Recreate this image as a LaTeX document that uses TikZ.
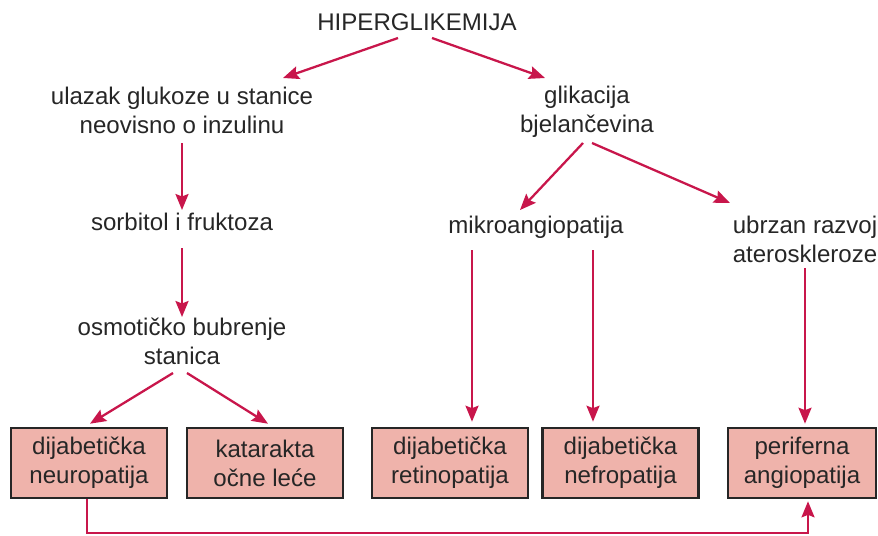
\documentclass[tikz,border=0pt]{standalone}
\usepackage{fontspec}
\setmainfont{Liberation Sans}
\usepackage{tikz}
\usetikzlibrary{arrows.meta, calc}
\definecolor{Karmin}{HTML}{C8164B}
\definecolor{Ruza}{HTML}{EFB3AB}
\definecolor{Tinta}{HTML}{262626}

\begin{document}
\begin{tikzpicture}[
  x=0.02cm, y=-0.02cm,
  tekst/.style={align=center, inner sep=0pt, text=Tinta,
                font=\fontsize{13.7}{16.4}\selectfont},
  kutija/.style={tekst, draw=Tinta, line width=1.5pt, fill=Ruza,
                 minimum width=3.12cm, minimum height=1.4cm},
  strelica/.style={-{Stealth[length=0.32cm, width=0.26cm, inset=0.05cm]},
                   Karmin, line width=1.3pt},
]
  \useasboundingbox (0,0) rectangle (878,535);

  % gornja razina
  \node[tekst] (hiper) at (417,22) {HIPERGLIKEMIJA};
  \node[tekst] (ulazak) at (182,110) {ulazak glukoze u stanice\\neovisno o inzulinu};
  \node[tekst] (glik) at (587,112) {glikacija\\bjelančevina};
  \draw[strelica] ($(hiper)+(-19,16)$) -- ($(ulazak)+(101,-32)$);
  \draw[strelica] ($(hiper)+(15,16)$) -- ($(glik)+(-42,-34)$);

  % lijeva grana
  \node[tekst] (sorbitol) at (182,222) {sorbitol i fruktoza};
  \node[tekst] (osmot) at (182,341) {osmotičko bubrenje\\stanica};
  \draw[strelica] ($(ulazak)+(0,33)$) -- ($(sorbitol)+(0,-12)$);
  \draw[strelica] ($(sorbitol)+(0,26)$) -- ($(osmot)+(0,-24)$);

  % desna grana
  \node[tekst] (mikro) at (536,227) {mikroangiopatija};
  \node[tekst] (ubrzan) at (805,239) {ubrzan razvoj\\ateroskleroze};
  \draw[strelica] ($(glik)+(-4,31)$) -- ($(mikro)+(-16,-17)$);
  \draw[strelica] ($(glik)+(5,31)$) -- ($(ubrzan)+(-75,-36)$);

  % posljedice
  \node[kutija] (neuro) at (89,463) {dijabetička\\neuropatija};
  \node[kutija] (katar) at (265,463) {katarakta\\očne leće};
  \node[kutija] (retino) at (450,463) {dijabetička\\retinopatija};
  \node[kutija] (nefro) at (620.5,463) {dijabetička\\nefropatija};
  \node[kutija, minimum width=2.96cm] (perif) at (802,463) {periferna\\angiopatija};

  \draw[strelica] ($(osmot)+(-9,32)$) -- ($(neuro.north)+(1,-3)$);
  \draw[strelica] ($(osmot)+(5,32)$) -- ($(katar.north)+(3,-3)$);

  \coordinate (ulazR) at ($(retino.north)+(22,-5)$);
  \coordinate (ulazN) at ($(nefro.north)+(-27.5,-5)$);
  \draw[strelica] ($(mikro -| ulazR)+(0,23)$) -- (ulazR);
  \draw[strelica] ($(mikro -| ulazN)+(0,23)$) -- (ulazN);
  \draw[strelica] ($(ubrzan)+(0,29)$) -- ($(perif.north)+(3,-3)$);

  \coordinate (ulazP) at ($(perif.south)+(6,2)$);
  \draw[strelica] ($(neuro.south)+(-2,0)$) -- ++(0,34) -| (ulazP);
\end{tikzpicture}
\end{document}
